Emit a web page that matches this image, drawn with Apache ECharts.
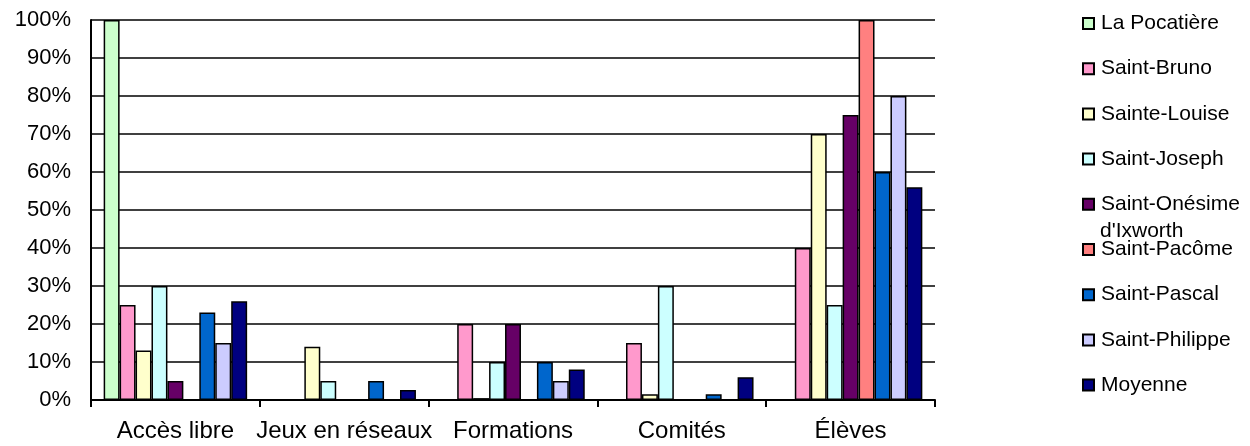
<!DOCTYPE html>
<html>
<head>
<meta charset="utf-8">
<script src="https://cdn.jsdelivr.net/npm/echarts@6/dist/echarts.min.js"></script>
<style>
  html, body { margin: 0; padding: 0; background: #fff; }
  #chart { width: 1250px; height: 446px; }
</style>
</head>
<body>
<div id="chart"></div>
<script>
// catégories et valeurs (en %)
const categories = ['Accès libre', 'Jeux en réseaux', 'Formations', 'Comités', 'Élèves']
const seriesNames = ['La Pocatière', 'Saint-Bruno', 'Sainte-Louise', 'Saint-Joseph', "Saint-Onésime d'Ixworth", 'Saint-Pacôme', 'Saint-Pascal', 'Saint-Philippe', 'Moyenne']
const colors = ['#CCFFCC', '#FF99CC', '#FFFFCC', '#CCFFFF', '#660066', '#FF8080', '#0066CC', '#CCCCFF', '#000080']

const laPocatiere = [100, 0, 0, 0, 0]
const saintBruno = [25, 0, 20, 15, 40]
const sainteLouise = [13, 14, 0.5, 1.5, 70]
const saintJoseph = [30, 5, 10, 30, 25]
const saintOnesime = [5, 0, 20, 0, 75]
const saintPacome = [0, 0, 0, 0, 100]
const saintPascal = [23, 5, 10, 1.5, 60]
const saintPhilippe = [15, 0, 5, 0, 80]
const moyenne = [26, 2.6, 8, 6, 56]

const values = [laPocatiere, saintBruno, sainteLouise, saintJoseph, saintOnesime, saintPacome, saintPascal, saintPhilippe, moyenne]

const font = 'Liberation Sans'

const chart = echarts.init(document.getElementById('chart'))

const series = seriesNames.map((name, i) => {
  return {
    name: name,
    type: 'bar',
    data: values[i],
    barGap: '0%',
    barCategoryGap: '15%',
    itemStyle: { color: colors[i], borderColor: '#000', borderWidth: 1.5 }
  }
})

const option = {
  animation: false,
  grid: { left: 91, right: 315, top: 20, bottom: 46 },
  xAxis: {
    type: 'category',
    data: categories,
    axisLine: { lineStyle: { color: '#000', width: 2 } },
    axisTick: { show: true, length: 7, lineStyle: { color: '#000', width: 2 } },
    axisLabel: { color: '#000', fontSize: 24, fontFamily: font, margin: 19, interval: 0, hideOverlap: false }
  },
  yAxis: {
    type: 'value',
    min: 0,
    max: 100,
    interval: 10,
    axisLine: { show: true, lineStyle: { color: '#000', width: 2 } },
    axisTick: { show: false },
    splitLine: { lineStyle: { color: '#000', width: 1.6 } },
    axisLabel: { color: '#000', fontSize: 22, fontFamily: font, margin: 20, formatter: '{value}%' }
  },
  legend: {
    orient: 'vertical',
    left: 1082,
    top: 13,
    padding: 0,
    itemWidth: 11,
    itemHeight: 11,
    itemGap: 24.2,
    icon: 'rect',
    textStyle: { color: '#000', fontSize: 21, fontFamily: font, padding: [0, 0, 0, 2] },
    formatter: (name) => name === "Saint-Onésime d'Ixworth" ? 'Saint-Onésime' : name,
    data: seriesNames
  },
  graphic: [
    { type: 'text', left: 1100, top: 221, style: { text: "d'Ixworth", fontSize: 21, fontFamily: font, fill: '#000' } }
  ],
  series: series
}

chart.setOption(option)
</script>
</body>
</html>
